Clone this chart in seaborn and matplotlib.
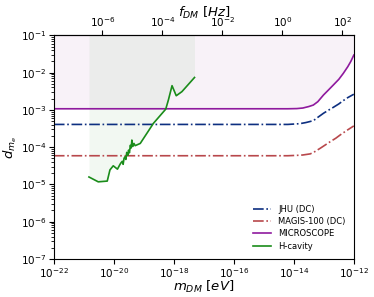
import numpy as np
import matplotlib
matplotlib.use("Agg")
import matplotlib.pyplot as plt
import seaborn as sns
import pandas as pd

# ---- data (log10 of mass in eV, log10 of coupling) ----
jhu_logm = [-22, -14.2, -13.8, -13.6, -13.35, -13.2, -13.01, -12.85, -12.68,
            -12.5, -12.35, -12.2, -12.0]
jhu_logd = [-3.39, -3.39, -3.37, -3.34, -3.29, -3.20, -3.09, -3.01, -2.93,
            -2.84, -2.75, -2.67, -2.58]

magis_logm = [-22, -14.2, -13.9, -13.7, -13.45, -13.3, -13.12, -12.95, -12.78,
              -12.6, -12.45, -12.25, -12.0]
magis_logd = [-4.23, -4.23, -4.22, -4.21, -4.18, -4.12, -4.03, -3.94, -3.85,
              -3.76, -3.67, -3.56, -3.43]

micro_logm = [-22, -14.2, -13.9, -13.7, -13.5, -13.35, -13.2, -13.01, -12.85,
              -12.68, -12.5, -12.35, -12.2, -12.1, -12.0]
micro_logd = [-2.97, -2.97, -2.965, -2.95, -2.91, -2.87, -2.78, -2.60, -2.47,
              -2.33, -2.18, -2.02, -1.84, -1.70, -1.53]

hcav_logm = [-20.83, -20.52, -20.22, -20.13, -20.02, -19.88, -19.80, -19.77,
             -19.72, -19.69, -19.66, -19.63, -19.60, -19.57, -19.53, -19.51,
             -19.48, -19.45, -19.42, -19.40, -19.37, -19.33, -19.29, -19.12,
             -18.68, -18.27, -18.18, -18.06, -17.92, -17.73, -17.31]
hcav_logd = [-4.80, -4.93, -4.91, -4.61, -4.50, -4.59, -4.47, -4.43,
             -4.38, -4.46, -4.30, -4.26, -4.33, -4.14, -4.22, -4.08,
             -4.15, -3.95, -4.02, -3.81, -3.98, -3.90, -3.96, -3.90,
             -3.36, -2.98, -2.73, -2.35, -2.62, -2.51, -2.13]

labels = ["JHU (DC)", "MAGIS-100 (DC)", "MICROSCOPE", "H-cavity"]
colors = ["#0d2f80", "#b8484c", "#8f1a9e", "#1a8c1a"]
styles = ["-.", "-.", "-", "-"]

series = [(jhu_logm, jhu_logd), (magis_logm, magis_logd),
          (micro_logm, micro_logd), (hcav_logm, hcav_logd)]

frames = []
for lab, (lm, ld) in zip(labels, series):
    frames.append(pd.DataFrame({"m": 10.0 ** np.array(lm),
                                "d": 10.0 ** np.array(ld),
                                "exp": lab}))
df = pd.concat(frames, ignore_index=True)

EV_TO_HZ = 2.418e14

fig = plt.figure(figsize=(3.74, 2.97), dpi=100)
ax = fig.add_axes([0.144, 0.128, 0.802, 0.753])

for lab, col, ls in zip(labels, colors, styles):
    sub = df[df["exp"] == lab]
    sns.lineplot(data=sub, x="m", y="d", ax=ax, color=col, linestyle=ls,
                 lw=1.2, label=lab, sort=False, estimator=None)

micro = df[df["exp"] == "MICROSCOPE"]
ax.fill_between(micro["m"], micro["d"], 1e-1, color="purple", alpha=0.05, lw=0)
hc = df[df["exp"] == "H-cavity"]
ax.fill_between(hc["m"], hc["d"], 1e-1, color="green", alpha=0.05, lw=0)

ax.set_xscale("log")
ax.set_yscale("log")
ax.set_xlim(1e-22, 1e-12)
ax.set_ylim(1e-7, 1e-1)
ax.set_xticks([1e-22, 1e-20, 1e-18, 1e-16, 1e-14, 1e-12])
ax.xaxis.set_minor_locator(matplotlib.ticker.NullLocator())
ax.tick_params(labelsize=7.5, pad=2)
ax.set_xlabel(r"$m_{DM}\ [eV]$", fontsize=9.5, labelpad=-1)
ax.set_ylabel(r"$d_{m_e}$", fontsize=9.5, labelpad=1)

sec = ax.secondary_xaxis("top", functions=(lambda m: m * EV_TO_HZ,
                                           lambda f: f / EV_TO_HZ))
sec.set_xticks([1e-6, 1e-4, 1e-2, 1, 1e2])
sec.xaxis.set_minor_locator(matplotlib.ticker.NullLocator())
sec.tick_params(labelsize=7.5, pad=1)
sec.set_xlabel(r"$f_{DM}\ [Hz]$", fontsize=9.5, labelpad=-1)

ax.legend(loc="lower right", frameon=False, fontsize=6, handlelength=2.2,
          borderaxespad=0.6, labelspacing=0.4)

fig.savefig("out.png", dpi=100)
